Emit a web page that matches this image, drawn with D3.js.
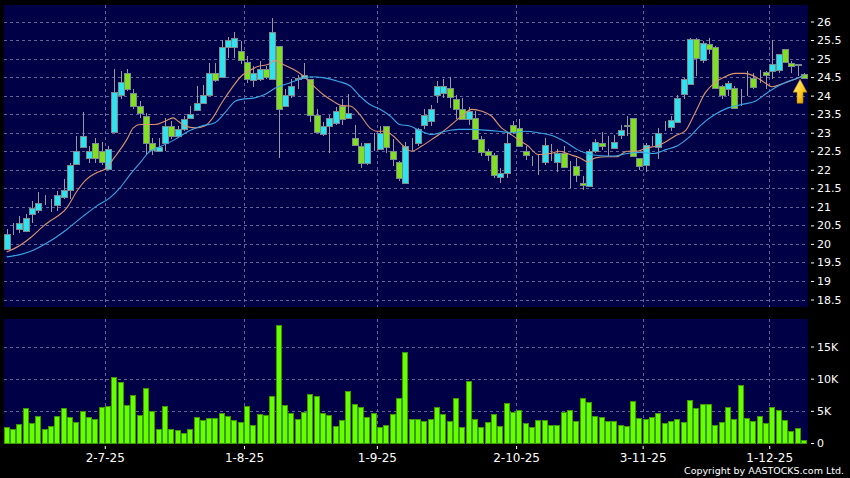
<!DOCTYPE html>
<html>
<head>
<meta charset="utf-8">
<script src="https://cdn.jsdelivr.net/npm/d3@7"></script>
<style>
  html, body { margin: 0; padding: 0; background: #000; }
  svg { display: block; }
</style>
</head>
<body>
<script>
// daily candles, oldest first (open, high, low, close)
var opens = [19.87,20.44,20.41,20.34,20.81,20.92,21.23,21.04,21.06,21.27,21.46,22.16,22.62,22.32,22.73,22.50,22.03,23.02,24.03,24.62,
  24.06,23.73,23.45,22.71,22.50,22.73,23.19,22.92,23.10,23.40,23.61,23.81,24.01,24.60,24.51,25.31,25.32,25.20,24.90,24.41,
  24.44,24.71,24.44,25.33,23.73,24.03,24.44,24.48,24.44,23.47,22.97,23.19,23.25,23.72,23.40,22.86,22.64,22.17,22.66,22.55,
  23.19,22.50,22.20,21.65,22.64,22.73,23.22,23.31,24.03,24.06,24.21,23.90,23.63,23.36,23.40,22.82,22.50,22.41,21.81,21.92,
  23.22,23.13,22.50,22.19,22.20,22.21,22.68,22.21,22.44,22.21,22.10,21.65,21.56,22.50,22.73,22.57,22.60,22.94,23.21,23.40,
  22.31,22.13,22.71,22.62,23.21,23.16,23.29,24.05,24.32,25.53,24.97,25.40,25.31,24.27,24.18,24.21,23.90,24.05,24.48,24.60,
  24.63,24.66,24.68,25.27,24.87,24.83,24.59];
var highs = [20.39,20.57,20.75,20.81,21.15,21.40,21.31,21.20,21.42,21.74,22.17,22.92,23.56,22.64,22.86,22.74,22.64,24.73,24.66,24.73,
  24.17,23.85,23.54,22.86,22.86,23.40,23.31,23.19,23.45,23.72,24.26,24.28,24.88,24.88,25.50,25.59,25.72,25.47,25.06,24.79,
  24.93,24.80,26.10,25.33,24.17,24.45,24.57,24.88,24.44,23.64,23.30,23.49,23.70,23.91,24.05,23.22,22.71,22.73,23.00,23.18,
  23.19,22.82,22.25,22.74,22.86,23.13,23.63,23.76,24.39,24.45,24.51,24.03,23.94,23.70,23.58,22.91,22.55,22.46,22.05,23.00,
  23.31,23.36,22.64,22.37,22.41,22.86,22.70,22.55,22.64,22.23,22.32,21.83,22.55,22.82,23.01,22.92,22.95,23.22,23.46,23.40,
  22.32,22.73,22.91,23.13,23.31,23.45,24.03,24.48,25.56,25.56,25.47,25.56,25.33,24.30,24.39,24.26,24.17,24.66,24.62,24.70,
  24.66,25.51,25.13,25.27,24.93,24.86,24.60];
var lows = [19.85,20.25,20.30,20.33,20.57,20.84,21.04,20.86,20.88,21.20,21.20,22.16,22.62,22.19,22.19,22.14,22.01,23.02,23.90,24.12,
  23.63,23.40,22.41,22.41,22.50,22.50,22.82,22.89,23.04,23.38,23.59,23.77,23.99,24.37,24.48,25.02,25.02,24.84,24.35,24.24,
  24.39,24.44,24.44,22.32,23.70,23.94,24.18,24.44,23.28,23.02,22.92,22.46,23.22,23.22,23.40,22.64,22.05,22.14,22.50,22.53,
  22.46,22.10,21.69,21.65,22.50,22.64,23.09,23.19,23.81,23.94,23.67,23.36,23.36,23.22,22.80,22.38,22.23,21.78,21.65,21.78,
  22.97,22.64,22.26,22.10,21.87,22.12,22.25,21.94,22.05,21.51,21.67,21.45,21.56,22.46,22.53,22.38,22.55,22.82,22.91,22.37,
  21.99,21.94,22.64,22.29,23.04,23.04,23.27,23.90,24.30,24.53,24.88,25.11,24.17,23.90,23.99,23.64,23.72,23.99,24.17,24.35,
  24.17,24.46,24.62,24.87,24.62,24.52,24.47];
var closes = [20.27,20.44,20.57,20.70,20.97,21.11,21.23,21.04,21.32,21.46,22.12,22.50,22.92,22.50,22.32,22.21,22.56,24.09,24.36,24.17,
  23.73,23.52,22.73,22.53,22.61,23.19,22.92,23.09,23.37,23.51,23.81,24.01,24.62,24.42,25.31,25.50,25.56,24.96,24.44,24.60,
  24.71,24.51,25.72,23.64,24.01,24.27,24.47,24.57,23.49,23.02,23.18,23.40,23.58,23.36,23.54,22.66,22.19,22.71,22.66,23.00,
  22.61,22.29,21.78,22.64,22.64,23.09,23.49,23.64,24.27,24.26,23.97,23.64,23.36,23.58,22.83,22.47,22.41,21.87,21.90,22.73,
  23.02,22.65,22.39,22.19,22.20,22.66,22.68,22.44,22.08,22.21,21.85,21.58,22.50,22.75,22.63,22.57,22.75,23.08,23.17,22.38,
  22.10,22.67,22.71,23.00,23.21,23.34,23.94,24.44,25.53,25.02,25.42,25.26,24.21,24.01,24.35,23.67,23.90,24.05,24.23,24.60,
  24.56,24.86,25.11,24.91,24.81,24.85,24.48];

var volumes = [2530,2120,2940,5420,3100,4130,2120,2630,4230,5420,4080,3300,5000,4080,3720,5570,5730,10320,9490,5880,
  7430,4330,8570,4900,2220,5730,2170,1960,1550,2220,4080,3560,3820,3870,4700,4130,3510,3300,5780,2790,
  4490,4280,7330,18320,5880,4700,3770,4850,7690,7280,4700,4280,2680,3610,8150,6040,5570,4080,4640,2530,
  2790,4540,7020,14190,3770,3660,3350,3720,5520,4490,3460,7020,2530,9700,3770,2480,3200,4440,2630,6190,
  4750,5110,3100,2530,3610,3610,2840,2840,4750,5060,3460,6970,6350,4230,4030,3350,3460,2790,2680,6500,
  3870,3720,4080,4700,3100,3410,3720,3250,6760,5470,5990,5990,2790,3300,5620,3660,9030,3920,3460,4180,
  3150,5570,5110,3610,1860,2370,460];

// moving averages: [candle index, value]
var maShort = [[0,19.78],[2,19.95],[4,20.2],[5.8,20.48],[6.8,20.61],[9.5,20.97],[11.1,21.42],[12.6,21.74],[14.2,21.92],[15.8,22.05],
  [16.8,22.28],[19,22.82],[20,23.13],[21.1,23.22],[23.4,23.22],[25,23.31],[26.3,23.4],[27.1,23.31],[28.2,23.18],[29.8,23.13],
  [31.3,23.18],[32.4,23.36],[34,23.81],[35.6,24.21],[37.1,24.53],[38.2,24.66],[39.8,24.79],[41.3,24.84],[42.4,24.95],[43.7,24.84],
  [45.3,24.71],[46.9,24.53],[48.5,24.26],[50,24.03],[51.6,23.85],[52.9,23.73],[54.3,23.72],[55.8,23.49],[57.4,23.13],[58.5,23.04],
  [59.8,23.04],[61.1,22.91],[62.7,22.64],[64,22.5],[65.6,22.64],[67.2,22.82],[68.7,23],[70.3,23.22],[71.9,23.45],[73.5,23.63],
  [75.1,23.58],[76.6,23.45],[78.2,23.13],[79.3,23],[80.8,22.82],[82.4,22.64],[84,22.41],[85.9,22.44],[87.4,22.5],[89,22.41],
  [90.6,22.32],[91.9,22.21],[93,22.32],[94.8,22.35],[96.4,22.35],[98,22.5],[99.6,22.5],[101.1,22.59],[102.7,22.64],[104.3,22.77],
  [105.8,22.93],[107.2,23.04],[108.8,23.54],[110.4,24.08],[111.9,24.35],[113.5,24.51],[115.1,24.6],[116.7,24.6],[118.3,24.51],
  [119.8,24.35],[120.9,24.24],[123,24.35],[124.6,24.44],[126,24.54]];
var maLong = [[0,19.65],[2.1,19.71],[4.2,19.83],[6.8,20.07],[9.5,20.39],[12.1,20.75],[14.2,21.02],[16.3,21.24],[17.9,21.51],[19.5,21.87],
  [21.1,22.19],[22.4,22.46],[24.5,22.64],[26.6,22.82],[28.7,23.04],[30.8,23.18],[32.9,23.27],[34.5,23.54],[36.1,23.85],[37.1,23.9],
  [39.2,23.94],[40.8,24.03],[42.4,24.2],[44.8,24.35],[46.5,24.45],[48.1,24.51],[50.2,24.48],[52.3,24.39],[54.3,24.26],[55.8,23.99],
  [57.4,23.76],[59,23.63],[60.6,23.45],[62.1,23.22],[63.7,23.18],[65.1,23.07],[67.2,22.95],[69.3,23.04],[71.4,23.09],[73.5,23.09],
  [75.6,23.07],[77.7,23.04],[79.8,23],[81.9,23.04],[84,23],[86.4,22.91],[88.5,22.73],[90.1,22.55],[91.7,22.44],[93.8,22.38],
  [95.9,22.37],[98,22.44],[100.1,22.47],[102.2,22.44],[104.3,22.55],[106,22.65],[107.7,22.86],[109.8,23.22],[111.9,23.49],[114,23.67],
  [116.1,23.76],[118.3,23.85],[119.8,24.03],[121.4,24.21],[123,24.35],[124.6,24.45],[126,24.54]];

var priceTicks = [18.5,19,19.5,20,20.5,21,21.5,22,22.5,23,23.5,24,24.5,25,25.5,26];
var volTicks = [0,5000,10000,15000];
var volTickLabels = ["0","5K","10K","15K"];
var dateIdx = [15,37,58,80,100,120];
var dateLabels = ["2-7-25","1-8-25","1-9-25","2-10-25","3-11-25","1-12-25"];

var width = 850, height = 478;
var n = closes.length;

var svg = d3.select("body").append("svg")
  .attr("width", width)
  .attr("height", height)
  .style("background", "#000");

var x = d3.scaleLinear().domain([-0.5, n - 0.5]).range([3.5, 807.2]);
var y = d3.scaleLinear().domain([18.5, 26]).range([299.5, 21.5]);
var yv = d3.scaleLinear().domain([0, 15000]).range([443, 346.5]);

var panelBg = "#000046", gridCol = "#64649a";

// panels
svg.append("rect").attr("x", 4).attr("y", 5).attr("width", 804).attr("height", 302).attr("fill", panelBg);
svg.append("rect").attr("x", 4).attr("y", 319).attr("width", 804).attr("height", 125).attr("fill", panelBg);

// grid
var grid = svg.append("g")
  .attr("stroke", gridCol)
  .attr("stroke-width", 1)
  .attr("stroke-dasharray", "3,3")
  .attr("shape-rendering", "crispEdges");
grid.selectAll(".hp").data(priceTicks).enter().append("line")
  .attr("x1", 4).attr("x2", 808)
  .attr("y1", function (d) { return Math.round(y(d)) + 0.5; })
  .attr("y2", function (d) { return Math.round(y(d)) + 0.5; });
grid.selectAll(".hv").data(volTicks.slice(1)).enter().append("line")
  .attr("x1", 4).attr("x2", 808)
  .attr("y1", function (d) { return Math.round(yv(d)) + 0.5; })
  .attr("y2", function (d) { return Math.round(yv(d)) + 0.5; });
grid.selectAll(".vp").data(dateIdx).enter().append("line")
  .attr("x1", function (d) { return Math.round(x(d + 0.5)) + 0.5; })
  .attr("x2", function (d) { return Math.round(x(d + 0.5)) + 0.5; })
  .attr("y1", 5).attr("y2", 307);
grid.selectAll(".vv").data(dateIdx).enter().append("line")
  .attr("x1", function (d) { return Math.round(x(d + 0.5)) + 0.5; })
  .attr("x2", function (d) { return Math.round(x(d + 0.5)) + 0.5; })
  .attr("y1", 319).attr("y2", 444);

// candles
var idx = d3.range(n);
function candleFill(i) {
  if (closes[i] > opens[i]) return "#2fe2f0";
  if (closes[i] < opens[i]) return "#80e020";
  return "#a0a0a0";
}
var candles = svg.append("g").attr("shape-rendering", "crispEdges");
candles.selectAll(".wick").data(idx).enter().append("line")
  .attr("x1", function (i) { return Math.round(x(i)) + 0.5; })
  .attr("x2", function (i) { return Math.round(x(i)) + 0.5; })
  .attr("y1", function (i) { return y(highs[i]); })
  .attr("y2", function (i) { return y(lows[i]); })
  .attr("stroke", "#9a9a9a");
candles.selectAll(".body").data(idx).enter().append("rect")
  .attr("x", function (i) { return Math.round(x(i)) - 2.5; })
  .attr("y", function (i) { return Math.round(y(Math.max(opens[i], closes[i]))) + 0.5; })
  .attr("width", 6)
  .attr("height", function (i) {
    return Math.max(0, Math.round(y(Math.min(opens[i], closes[i]))) - Math.round(y(Math.max(opens[i], closes[i]))));
  })
  .attr("fill", candleFill)
  .attr("stroke", function (i) { return closes[i] === opens[i] ? "#a0a0a0" : "#7c8c8c"; });

// moving averages
var maLine = d3.line()
  .x(function (d) { return x(d[0]); })
  .y(function (d) { return y(d[1]); })
  .curve(d3.curveMonotoneX);
svg.append("path").attr("d", maLine(maShort))
  .attr("fill", "none").attr("stroke", "#dc9470").attr("stroke-width", 1.1);
svg.append("path").attr("d", maLine(maLong))
  .attr("fill", "none").attr("stroke", "#3aa6e6").attr("stroke-width", 1.1);

// arrow under last candle
var defs = svg.append("defs");
var grad = defs.append("linearGradient").attr("id", "arrowGrad")
  .attr("x1", 0).attr("y1", 0).attr("x2", 1).attr("y2", 1);
grad.append("stop").attr("offset", "0%").attr("stop-color", "#fff2a0");
grad.append("stop").attr("offset", "55%").attr("stop-color", "#ffcc22");
grad.append("stop").attr("offset", "100%").attr("stop-color", "#d08a00");
var ax = x(n - 1) - 4, ay = y(lows[n - 1]) + 1;
svg.append("path")
  .attr("d", "M" + ax + "," + ay + " l7,13 h-4 v11 h-6 v-11 h-4 z")
  .attr("fill", "url(#arrowGrad)")
  .attr("stroke", "#b07800")
  .attr("stroke-width", 0.6);

// volume
svg.append("g").attr("shape-rendering", "crispEdges")
  .selectAll("rect").data(idx).enter().append("rect")
  .attr("x", function (i) { return Math.round(x(i)) - 2.5; })
  .attr("y", function (i) { return Math.round(yv(volumes[i])) + 0.5; })
  .attr("width", 5)
  .attr("height", function (i) { return Math.max(0, 443 - Math.round(yv(volumes[i]))); })
  .attr("fill", "#66ff00")
  .attr("stroke", "#3a9a00");

// axes
var font = "'DejaVu Sans', sans-serif";
function styleAxis(g, size) {
  g.select(".domain").remove();
  g.selectAll(".tick line").attr("stroke", "#ffffff");
  g.selectAll(".tick text").attr("fill", "#ffffff").style("font-family", font).style("font-size", size + "px");
}
var priceAxis = svg.append("g").attr("transform", "translate(811,0)")
  .call(d3.axisRight(y).tickValues(priceTicks).tickSize(3).tickPadding(3)
    .tickFormat(function (d) { return String(d); }));
styleAxis(priceAxis, 11);
var volAxis = svg.append("g").attr("transform", "translate(811,0)")
  .call(d3.axisRight(yv).tickValues(volTicks).tickSize(3).tickPadding(3)
    .tickFormat(function (d, i) { return volTickLabels[i]; }));
styleAxis(volAxis, 11);
var xs = d3.scaleOrdinal().domain(dateIdx).range(dateIdx.map(function (d) { return x(d + 0.5); }));
var dateAxis = svg.append("g").attr("transform", "translate(0,446)")
  .call(d3.axisBottom(xs).tickSize(3).tickPadding(4.5)
    .tickFormat(function (d, i) { return dateLabels[i]; }));
styleAxis(dateAxis, 12);

svg.append("text")
  .attr("x", 844).attr("y", 474)
  .attr("text-anchor", "end")
  .attr("fill", "#ffffff")
  .style("font-family", font)
  .style("font-size", "9.5px")
  .text("Copyright by AASTOCKS.com Ltd.");
</script>
</body>
</html>
